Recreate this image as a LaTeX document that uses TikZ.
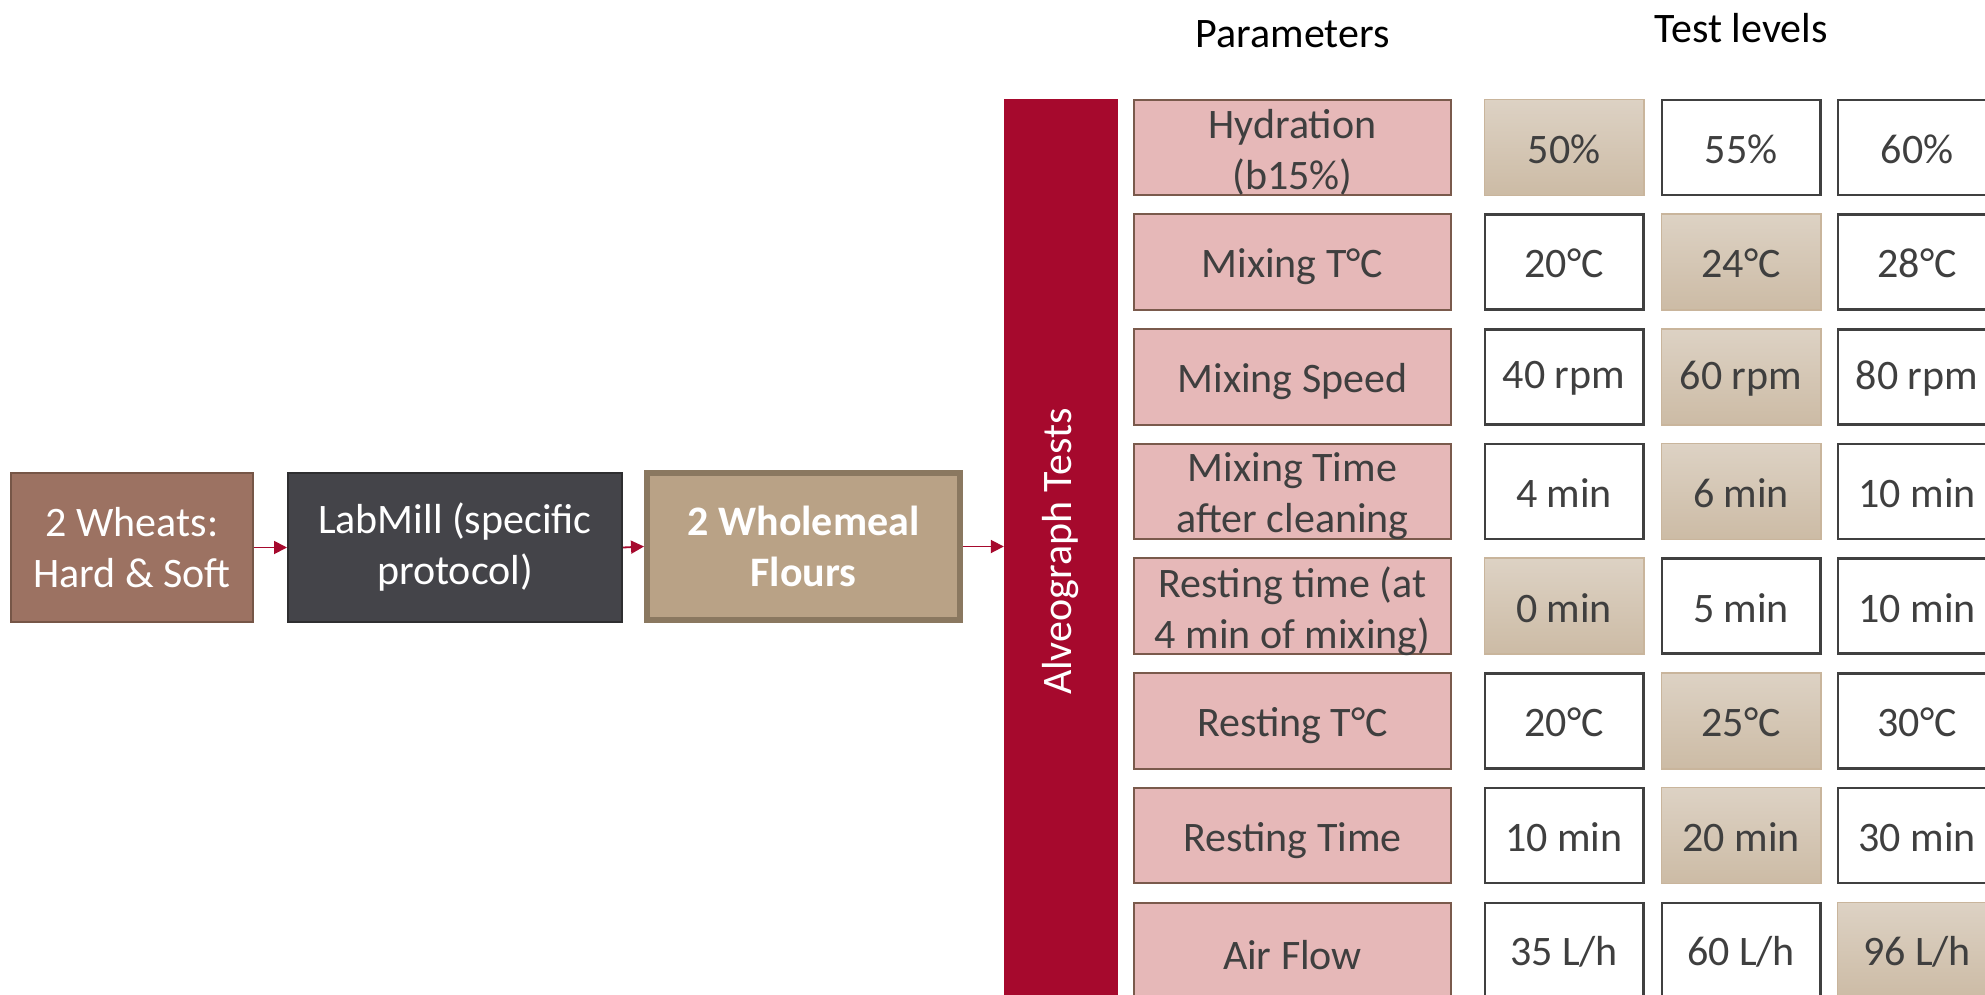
\documentclass[tikz,border=0pt]{standalone}
\usepackage{fontspec}
\setmainfont{Carlito}
\usetikzlibrary{arrows.meta}
\definecolor{wheatfill}{HTML}{9C7262}
\definecolor{wheatline}{HTML}{765647}
\definecolor{millfill}{HTML}{444449}
\definecolor{millline}{HTML}{2E2E30}
\definecolor{flourfill}{HTML}{B9A286}
\definecolor{flourline}{HTML}{8A7860}
\definecolor{crimson}{HTML}{A6092D}
\definecolor{paramfill}{HTML}{E6B8B8}
\definecolor{paramline}{HTML}{7A5A4C}
\definecolor{lvlline}{HTML}{404040}
\definecolor{tanA}{HTML}{DDD2C4}
\definecolor{tanB}{HTML}{CCBBA5}
\definecolor{tanline}{HTML}{C9B59C}
\definecolor{txtgray}{HTML}{3F3F3F}
\tikzset{
  big/.style={font=\fontsize{42}{51}\selectfont},
  flowbox/.style={big, text=white, align=center, inner sep=0pt, minimum height=151pt},
  intxt/.style={big, text=txtgray, align=center, inner sep=0pt},
  parambox/.style={fill=paramfill, draw=paramline, line width=2pt, inner sep=0pt, minimum width=317pt, minimum height=95.5pt},
  lvlbox/.style={fill=white, draw=lvlline, line width=2.5pt, inner sep=0pt, minimum width=158.5pt, minimum height=95pt},
  hibox/.style={top color=tanA, bottom color=tanB, draw=tanline, line width=1.5pt, inner sep=0pt, minimum width=159.5pt, minimum height=96pt},
  flowarrow/.style={draw=crimson, line width=1.8pt, -{Triangle[length=13pt,width=13pt]}},
  header/.style={big, text=black}
}
% box with its text set slightly low, as in the reference
\newcommand{\cell}[5]{%
  \node[#1] (#2) at #3 {};
  \node[intxt] (#2t) at ([yshift=-#4pt]#2.center) {#5};
}
\begin{document}
\begin{tikzpicture}[x=1pt,y=-1pt]
\useasboundingbox (0,0) rectangle (1985,995);
\clip (0,0) rectangle (1985,995);
\fill[white] (0,0) rectangle (1985,995);

% flow boxes
\node[flowbox, fill=wheatfill, draw=wheatline, line width=2pt, minimum width=242pt, minimum height=149pt] (wheat) at (132,547.5) {2 Wheats:\\Hard \& Soft};
\node[flowbox, fill=millfill, draw=millline, line width=2pt, minimum width=334pt, minimum height=149pt] (mill) at (455,547.5) {LabMill (specific\\protocol)};
\node[flowbox, fill=flourfill, draw=flourline, line width=6pt, minimum width=313pt, minimum height=147pt, font=\fontsize{42}{51}\selectfont\bfseries] (flour) at (803.5,546.5) {2 Wholemeal\\Flours};

% red bar
\node[fill=crimson, inner sep=0pt, minimum width=114pt, minimum height=905pt] (bar) at (1061,551.5) {};
\node[big, text=white, rotate=90] (bartxt) at (bar.center) {Alveograph Tests};

\draw[flowarrow] (wheat.east) -- (mill.west);
\draw[flowarrow] (mill.east) -- (flour.west);
\draw[flowarrow] (flour.east) -- (bar.west |- flour.east);

% headers
\node[header] (hpar) at (1292.5,34) {Parameters};
\node[header] (hlvl) at (1741,28) {Test levels};

% rows
\cell{parambox}{p1}{(1292.5,147.4)}{5}{Hydration\\(b15\%)}
\cell{hibox}{l11}{(1564,147.4)}{1.5}{50\%}
\cell{lvlbox}{l12}{(1741,147.4)}{1.5}{55\%}
\cell{lvlbox}{l13}{(1917,147.4)}{1.5}{60\%}

\cell{parambox}{p2}{(1292.5,262.1)}{5}{Mixing T°C}
\cell{lvlbox}{l21}{(1564,262.1)}{1.5}{20°C}
\cell{hibox}{l22}{(1741,262.1)}{1.5}{24°C}
\cell{lvlbox}{l23}{(1917,262.1)}{1.5}{28°C}

\cell{parambox}{p3}{(1292.5,376.8)}{5}{Mixing Speed}
\cell{lvlbox}{l31}{(1564,376.8)}{1.5}{40 rpm}
\cell{hibox}{l32}{(1741,376.8)}{1.5}{60 rpm}
\cell{lvlbox}{l33}{(1917,376.8)}{1.5}{80 rpm}

\cell{parambox}{p4}{(1292.5,491.5)}{5}{Mixing Time\\after cleaning}
\cell{lvlbox}{l41}{(1564,491.5)}{1.5}{4 min}
\cell{hibox}{l42}{(1741,491.5)}{1.5}{6 min}
\cell{lvlbox}{l43}{(1917,491.5)}{1.5}{10 min}

\cell{parambox}{p5}{(1292.5,606.2)}{5}{Resting time (at\\4 min of mixing)}
\cell{hibox}{l51}{(1564,606.2)}{1.5}{0 min}
\cell{lvlbox}{l52}{(1741,606.2)}{1.5}{5 min}
\cell{lvlbox}{l53}{(1917,606.2)}{1.5}{10 min}

\cell{parambox}{p6}{(1292.5,720.9)}{5}{Resting T°C}
\cell{lvlbox}{l61}{(1564,720.9)}{1.5}{20°C}
\cell{hibox}{l62}{(1741,720.9)}{1.5}{25°C}
\cell{lvlbox}{l63}{(1917,720.9)}{1.5}{30°C}

\cell{parambox}{p7}{(1292.5,835.6)}{5}{Resting Time}
\cell{lvlbox}{l71}{(1564,835.6)}{1.5}{10 min}
\cell{hibox}{l72}{(1741,835.6)}{1.5}{20 min}
\cell{lvlbox}{l73}{(1917,835.6)}{1.5}{30 min}

\cell{parambox}{p8}{(1292.5,950.3)}{5}{Air Flow}
\cell{lvlbox}{l81}{(1564,950.3)}{1.5}{35 L/h}
\cell{lvlbox}{l82}{(1741,950.3)}{1.5}{60 L/h}
\cell{hibox}{l83}{(1917,950.3)}{1.5}{96 L/h}
\end{tikzpicture}
\end{document}
